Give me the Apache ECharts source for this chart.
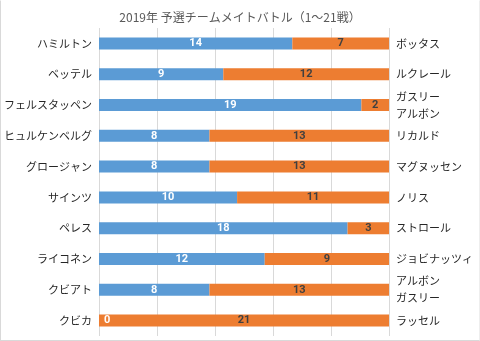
<!DOCTYPE html>
<html><head><meta charset="utf-8">
<script src="https://cdn.jsdelivr.net/npm/echarts@6/dist/echarts.min.js"></script>
<style>html,body{margin:0;padding:0;background:#fff}#c{width:480px;height:341px;box-sizing:border-box;border:1px solid #d9d9d9;border-top-color:#fff;border-right-color:#eee}</style>
</head><body><div id="c"></div>
<script>
const drivers = ['ハミルトン','ベッテル','フェルスタッペン','ヒュルケンベルグ','グロージャン','サインツ','ペレス','ライコネン','クビアト','クビカ'];
const teammates = ['ボッタス','ルクレール','ガスリー\nアルボン','リカルド','マグヌッセン','ノリス','ストロール','ジョビナッツィ','アルボン\nガスリー','ラッセル'];
const driverWins = [14,9,19,8,8,10,18,12,8,0];
const teammateWins = [7,12,2,13,13,11,3,9,13,21];
const xTicks = [0,4.2,8.4,12.6,16.8,21];

const font = '"Noto Sans CJK JP", sans-serif';
const chart = echarts.init(document.getElementById('c'));
chart.setOption({
  animation:false,
  backgroundColor:'#fff',
  title:{text:'2019年 予選チームメイトバトル（1～21戦）',left:'center',top:5,
    textStyle:{fontSize:12,fontWeight:'normal',color:'#595959',fontFamily:font}},
  grid:{left:96,right:90,top:27,bottom:4},
  xAxis:{type:'value',min:xTicks[0],max:xTicks[xTicks.length-1],interval:4.2,
    axisLabel:{show:false},axisLine:{show:false},axisTick:{show:false},
    splitLine:{lineStyle:{color:'#d9d9d9'}}},
  yAxis:[
    {type:'category',data:drivers,inverse:true,axisLine:{show:false},axisTick:{show:false},
     axisLabel:{fontSize:11,color:'#262626',fontFamily:font,margin:7}},
    {type:'category',data:teammates,inverse:true,position:'right',axisLine:{show:false},axisTick:{show:false},
     axisLabel:{fontSize:11,color:'#262626',fontFamily:font,margin:7,align:'left',lineHeight:17}}
  ],
  series:[
    {type:'bar',stack:'a',barWidth:12,yAxisIndex:0,itemStyle:{color:'#5B9BD5'},
     data:driverWins.map(v=> v===0 ? {value:v,label:{position:'insideLeft',offset:[0,0]}} : v),
     label:{show:true,position:'inside',color:'#fff',fontSize:11,fontWeight:'bold',fontFamily:'Roboto, sans-serif'}},
    {type:'bar',stack:'a',barWidth:12,yAxisIndex:0,itemStyle:{color:'#ED7D31'},data:teammateWins,
     label:{show:true,position:'inside',color:'#404040',fontSize:11,fontWeight:'bold',fontFamily:'Roboto, sans-serif'}}
  ]
});
</script></body></html>
